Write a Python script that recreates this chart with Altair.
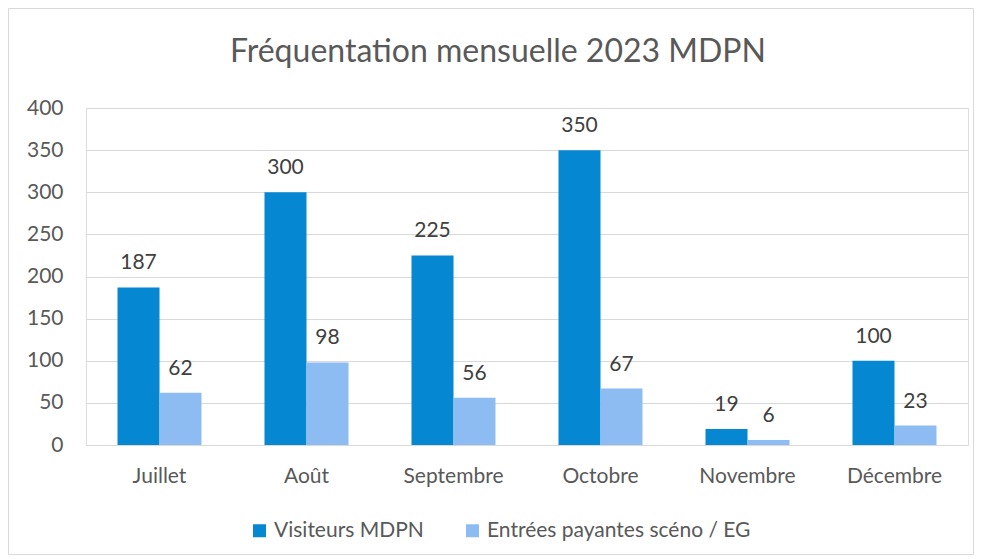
import altair as alt
import pandas as pd

months = ["Juillet", "Août", "Septembre", "Octobre", "Novembre", "Décembre"]
series = ["Visiteurs MDPN", "Entrées payantes scéno / EG"]
visiteurs = [187, 300, 225, 350, 19, 100]
entrees = [62, 98, 56, 67, 6, 23]
colors = ["#0588D1", "#8CBCF2"]
y_ticks = [0, 50, 100, 150, 200, 250, 300, 350, 400]
title = "Fréquentation mensuelle 2023 MDPN"

rows = []
for m, v, e in zip(months, visiteurs, entrees):
    rows.append({"mois": m, "serie": series[0], "valeur": v})
    rows.append({"mois": m, "serie": series[1], "valeur": e})
df = pd.DataFrame(rows)

FONT = "Lato"
FS = 21

x_enc = alt.X("mois:N", sort=months, title=None,
              scale=alt.Scale(paddingInner=0.4286, paddingOuter=0.2143),
              axis=alt.Axis(labelAngle=0, labelFontSize=FS, labelColor="#595959",
                            labelFont=FONT, ticks=False, domain=False, labelPadding=20))
xoff = alt.XOffset("serie:N", sort=series, scale=alt.Scale(paddingInner=0, paddingOuter=0))
y_enc = alt.Y("valeur:Q", title=None,
              scale=alt.Scale(domain=[0, 400], nice=False),
              axis=alt.Axis(values=y_ticks, labelFontSize=FS, labelColor="#595959",
                            labelFont=FONT, ticks=False, domain=False, labelPadding=23,
                            gridColor="#D9D9D9", gridWidth=1))

base = alt.Chart(df)

border = alt.Chart(pd.DataFrame({"a": [0]})).mark_rect(
    fillOpacity=0, stroke="#D9D9D9", strokeWidth=1
).encode(
    x=alt.value(-77.5), x2=alt.value(887.5), y=alt.value(-99.5), y2=alt.value(446.5)
)

title_mark = alt.Chart(pd.DataFrame({"t": [title]})).mark_text(
    fontSize=32, font=FONT, color="#595959", align="center", baseline="alphabetic"
).encode(x=alt.value(412), y=alt.value(-46), text="t:N")

bars = base.mark_bar().encode(
    x=x_enc, xOffset=xoff, y=y_enc,
    color=alt.Color("serie:N", sort=series,
                    scale=alt.Scale(domain=series, range=colors),
                    legend=alt.Legend(title=None, orient="none", direction="horizontal",
                                      legendX=163, legendY=412, symbolType="square",
                                      symbolSize=169, symbolStrokeWidth=0,
                                      labelFontSize=FS, labelColor="#595959",
                                      labelFont=FONT, columnPadding=38, labelOffset=4,
                                      labelLimit=0))
)

labels = base.mark_text(fontSize=FS, color="#404040", font=FONT,
                        baseline="alphabetic", dy=-18).encode(
    x=alt.X("mois:N", sort=months), xOffset=alt.XOffset("serie:N", sort=series),
    y="valeur:Q", text="valeur:Q"
)

chart = alt.layer(border, title_mark, bars, labels).properties(
    width=882, height=337,
    autosize=alt.AutoSizeParams(type="none"),
    padding={"left": 78, "top": 100, "right": 6, "bottom": 110},
).configure_view(stroke=None).configure(background="white")

chart.save("out.html", embed_options={"renderer": "svg", "actions": False})
